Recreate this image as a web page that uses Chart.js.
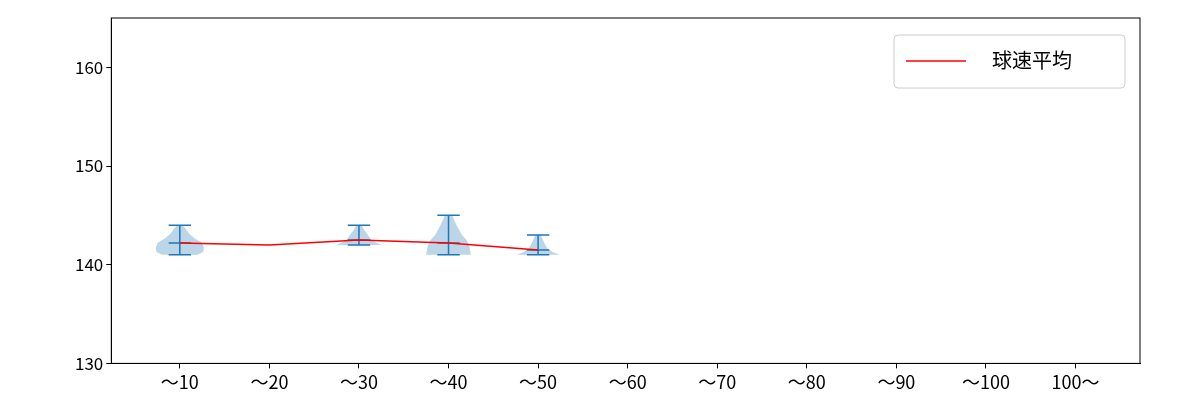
<!DOCTYPE html>
<html><head><meta charset="utf-8">
<script src="https://cdn.jsdelivr.net/npm/chart.js@4"></script>
<style>body{margin:0;background:#fff}#wrap{width:1200px;height:400px}</style>
</head><body><div id="wrap"><canvas id="c"></canvas></div>
<script>
const categories = ['～10','～20','～30','～40','～50','～60','～70','～80','～90','～100','100～'];
const meanSpeed = [142.2, 142.0, 142.5, 142.2, 141.5];
const speedMin = [141, null, 142, 141, 141];
const speedMax = [144, null, 144, 145, 143];
// violin outline: levels and half-widths (category units)
const violinLevels = [[141,141.3,141.7,142.2,142.7,143.2,143.6,144],null,[142,142.2,142.5,143,143.5,144],[141,142,142.5,143,144,145],[141,141.3,141.7,142.2,142.6,143]];
const violinWidths = [[0.2,0.26,0.27,0.25,0.16,0.1,0.07,0.03],null,[0.26,0.2,0.14,0.1,0.06,0.03],[0.25,0.23,0.2,0.15,0.09,0.04],[0.24,0.16,0.1,0.07,0.05,0.03]];

const violinPlugin = {
  id: 'violins',
  beforeDatasetsDraw(chart) {
    const {ctx, scales:{x, y}} = chart;
    ctx.save();
    violinLevels.forEach((lv, i) => {
      if (!lv) return;
      const w = violinWidths[i], c = i + 1;
      ctx.beginPath();
      lv.forEach((v, k) => { const px = x.getPixelForValue(c - w[k]), py = y.getPixelForValue(v); k ? ctx.lineTo(px, py) : ctx.moveTo(px, py); });
      for (let k = lv.length - 1; k >= 0; k--) ctx.lineTo(x.getPixelForValue(c + w[k]), y.getPixelForValue(lv[k]));
      ctx.closePath();
      ctx.fillStyle = 'rgba(31,119,180,0.3)';
      ctx.fill();
    });
    ctx.strokeStyle = '#1f77b4'; ctx.lineWidth = 1.5;
    speedMin.forEach((mn, i) => {
      if (mn == null) return;
      const c = i + 1, cx = x.getPixelForValue(c), hw = x.getPixelForValue(c + 0.125) - cx;
      const y0 = y.getPixelForValue(mn), y1 = y.getPixelForValue(speedMax[i]), ym = y.getPixelForValue(meanSpeed[i]);
      ctx.beginPath();
      ctx.moveTo(cx, y0); ctx.lineTo(cx, y1);
      [y0, y1, ym].forEach(py => { ctx.moveTo(cx - hw, py); ctx.lineTo(cx + hw, py); });
      ctx.stroke();
    });
    ctx.restore();
  },
  afterDraw(chart) {
    const {ctx, chartArea: a} = chart;
    ctx.save();
    const bx = a.right - 246, by = a.top + 17, bw = 231, bh = 53;
    ctx.fillStyle = 'rgba(255,255,255,0.8)'; ctx.strokeStyle = '#ccc'; ctx.lineWidth = 1;
    ctx.beginPath(); ctx.roundRect(bx, by, bw, bh, 4); ctx.fill(); ctx.stroke();
    ctx.strokeStyle = 'red'; ctx.lineWidth = 1.5;
    ctx.beginPath(); ctx.moveTo(bx + 12, by + 26); ctx.lineTo(bx + 72, by + 26); ctx.stroke();
    ctx.fillStyle = '#000'; ctx.font = '20px "Noto Sans CJK JP"'; ctx.textBaseline = 'middle';
    ctx.fillText('球速平均', bx + 98, by + 25);
    ctx.restore();
  }
};

new Chart(document.getElementById('c'), {
  type: 'scatter',
  data: { datasets: [{
    label: '球速平均',
    data: meanSpeed.map((v, i) => ({x: i + 1, y: v})),
    showLine: true, borderColor: 'red', borderWidth: 1.5, pointRadius: 0, tension: 0
  }]},
  options: {
    responsive: true, maintainAspectRatio: false, animation: false,
    layout: { padding: {left: 72, right: 60, top: 18, bottom: 4} },
    plugins: { legend: {display: false}, tooltip: {enabled: false} },
    scales: {
      x: { type: 'linear', min: 0.235, max: 11.72,
        grid: {display: true, drawOnChartArea: false, color: '#000', tickLength: 5},
        border: {color: '#000'},
        afterBuildTicks(s) { s.ticks = categories.map((_, i) => ({value: i + 1})); },
        ticks: { color: '#000', font: {size: 18, family: '"Noto Sans CJK JP"'}, autoSkip: false, maxRotation: 0,
          callback: v => categories[v - 1] } },
      y: { min: 130, max: 165,
        grid: {display: true, drawOnChartArea: false, color: '#000', tickLength: 5},
        border: {color: '#000'},
        afterBuildTicks(s) { s.ticks = [130,140,150,160].map(v => ({value: v})); },
        ticks: { color: '#000', font: {size: 17, family: '"Noto Sans CJK JP"'} } }
    }
  },
  plugins: [violinPlugin, {
    id: 'frame',
    afterDraw(chart) { const {ctx, chartArea: a} = chart; ctx.save(); ctx.strokeStyle = '#000'; ctx.lineWidth = 1; ctx.strokeRect(a.left, a.top, a.right - a.left, a.bottom - a.top); ctx.restore(); }
  }]
});
</script></body></html>
